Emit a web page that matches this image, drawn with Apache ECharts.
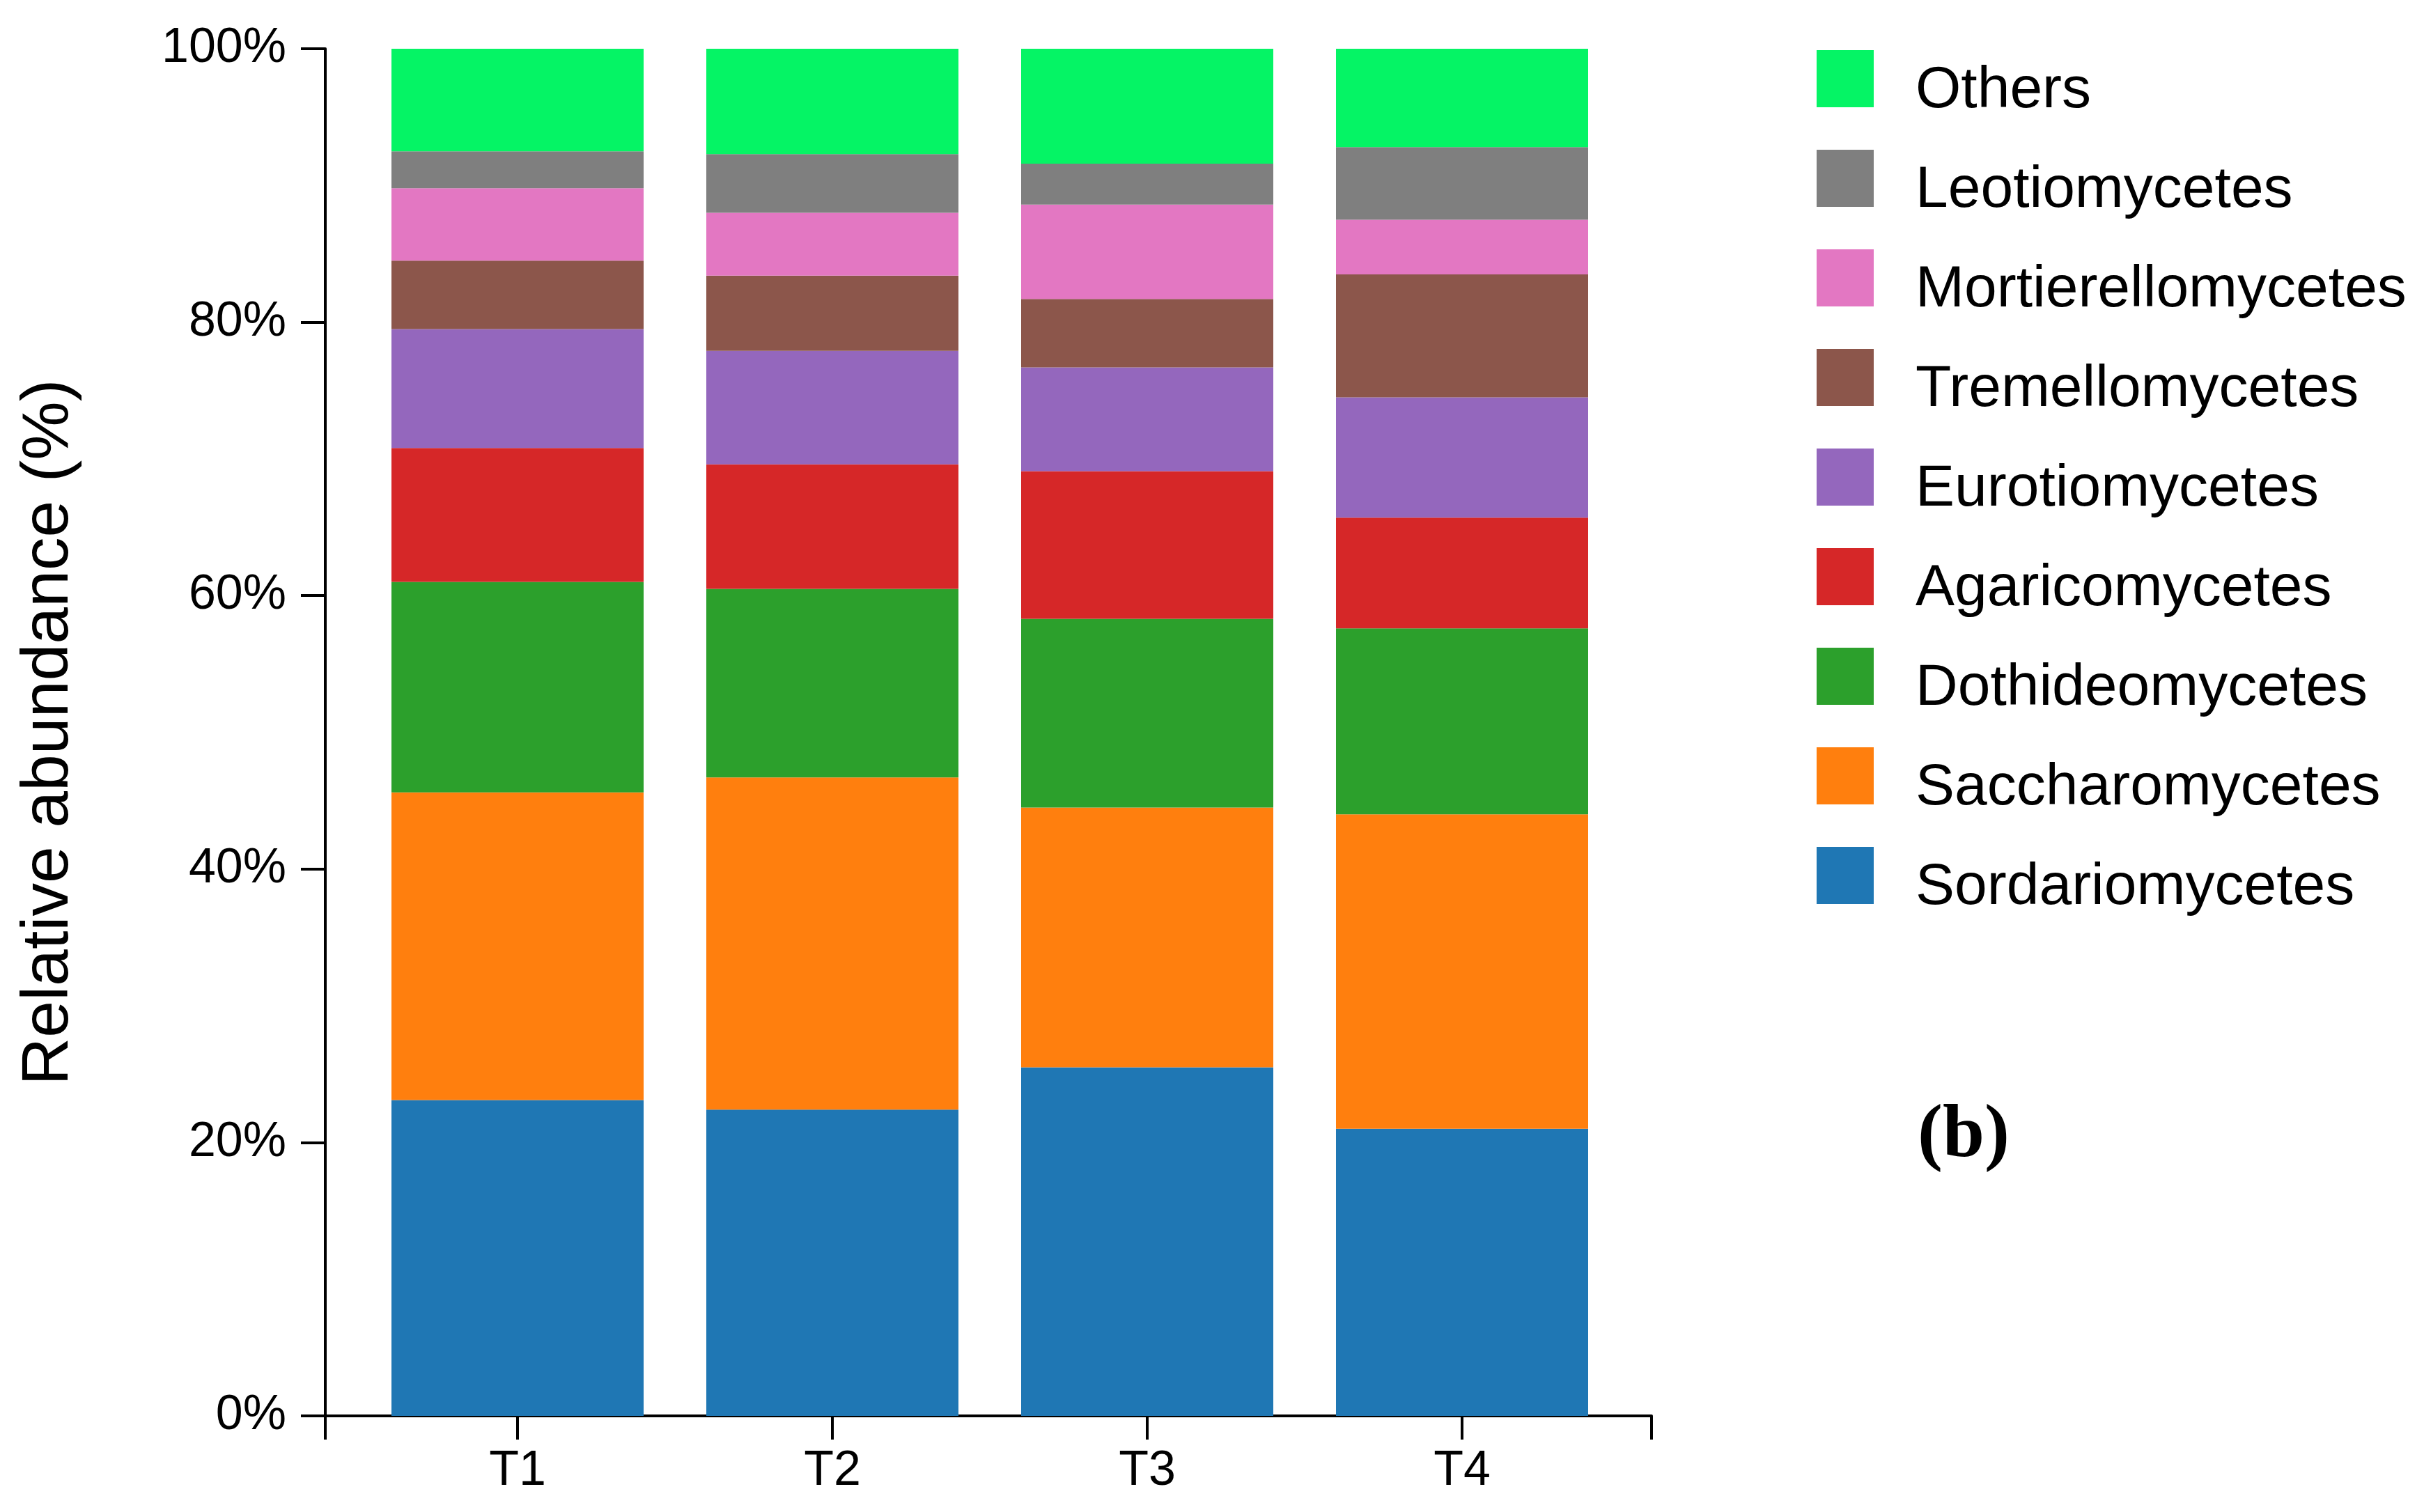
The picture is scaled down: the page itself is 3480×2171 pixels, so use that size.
<!DOCTYPE html>
<html>
<head>
<meta charset="utf-8">
<title>Relative abundance (b)</title>
<script src="https://cdn.jsdelivr.net/npm/echarts@6/dist/echarts.min.js"></script>
<style>
  html, body { margin: 0; padding: 0; background: #fff; }
  #chart { width: 3480px; height: 2171px; }
</style>
</head>
<body>
<div id="chart"></div>
<script>
// 样本
var categories = ['T1', 'T2', 'T3', 'T4'];
// 类群（堆叠从下到上）
var taxa = ['Sordariomycetes', 'Saccharomycetes', 'Dothideomycetes', 'Agaricomycetes',
  'Eurotiomycetes', 'Tremellomycetes', 'Mortierellomycetes', 'Leotiomycetes', 'Others'];
var taxaColors = ['#1f77b4', '#ff7f0e', '#2ca02c', '#d62728',
  '#9467bd', '#8c564b', '#e377c2', '#7f7f7f', '#05f465'];

// 各类群相对丰度 (%)，依次为 T1..T4
var sordariomycetes = [23.1, 22.4, 25.5, 21.0];
var saccharomycetes = [22.5, 24.3, 19.0, 23.0];
var dothideomycetes = [15.4, 13.8, 13.8, 13.6];
var agaricomycetes = [9.8, 9.1, 10.8, 8.1];
var eurotiomycetes = [8.7, 8.3, 7.6, 8.8];
var tremellomycetes = [5.0, 5.5, 5.0, 9.0];
var mortierellomycetes = [5.3, 4.6, 6.9, 4.0];
var leotiomycetes = [2.7, 4.3, 3.0, 5.3];
var others = [7.5, 7.7, 8.4, 7.2];

var yTicks = [0, 20, 40, 60, 80, 100];

var seriesValues = [sordariomycetes, saccharomycetes, dothideomycetes, agaricomycetes,
  eurotiomycetes, tremellomycetes, mortierellomycetes, leotiomycetes, others];

var FONT = 'Liberation Sans';
var black = '#000';

var chart = echarts.init(document.getElementById('chart'));

var series = taxa.map(function (name, k) {
  return {
    name: name,
    type: 'bar',
    stack: 'total',
    xAxisIndex: 0,
    yAxisIndex: 0,
    barWidth: 362,
    itemStyle: { color: taxaColors[k] },
    data: seriesValues[k]
  };
});

var option = {
  backgroundColor: '#fff',
  animation: false,
  title: {
    text: '(b)',
    left: 2753,
    top: 1578,
    padding: 0,
    textStyle: { fontFamily: 'Liberation Serif', fontWeight: 'bold', fontSize: 108, color: black }
  },
  legend: {
    data: taxa.slice().reverse(),
    orient: 'vertical',
    left: 2608,
    top: 72,
    padding: 0,
    icon: 'rect',
    itemWidth: 82,
    itemHeight: 82,
    itemGap: 42,
    selectedMode: false,
    // 文字比色块略低一点
    formatter: function (name) { return '{s| }{t|' + name + '}'; },
    textStyle: {
      color: black,
      rich: {
        s: { width: 55, fontSize: 2, lineHeight: 120 },
        t: { fontFamily: FONT, fontSize: 84, lineHeight: 84, color: black, verticalAlign: 'bottom' }
      }
    }
  },
  // 0：柱子所在区域；1：外框坐标轴（比柱区左右各宽一点）
  grid: [
    { left: 517, top: 70, width: 1808, height: 1963 },
    { left: 467, top: 70, width: 1904, height: 1963 }
  ],
  xAxis: [{
    gridIndex: 0,
    type: 'category',
    data: categories,
    axisLine: { show: false },
    axisTick: { show: true, alignWithLabel: true, length: 34, lineStyle: { color: black, width: 4 } },
    axisLabel: { margin: 45, fontFamily: FONT, fontSize: 70, color: black },
    splitLine: { show: false }
  }, {
    gridIndex: 1,
    type: 'value',
    min: 0,
    max: 1,
    axisLine: { show: true, onZero: false, lineStyle: { color: black, width: 4 } },
    axisTick: { show: true, length: 34, customValues: [0, 1], lineStyle: { color: black, width: 4 } },
    axisLabel: { show: false },
    splitLine: { show: false }
  }],
  yAxis: [{
    gridIndex: 0,
    type: 'value',
    min: yTicks[0],
    max: yTicks[yTicks.length - 1],
    show: false
  }, {
    gridIndex: 1,
    type: 'value',
    min: yTicks[0],
    max: yTicks[yTicks.length - 1],
    interval: yTicks[1] - yTicks[0],
    name: 'Relative abundance (%)',
    nameLocation: 'middle',
    nameGap: 349,
    nameTextStyle: { fontFamily: FONT, fontSize: 95, color: black },
    axisLine: { show: true, onZero: false, lineStyle: { color: black, width: 4 } },
    axisTick: { show: true, length: 35, lineStyle: { color: black, width: 4 } },
    axisLabel: { margin: 56, fontFamily: FONT, fontSize: 70, color: black, formatter: '{value}%' },
    splitLine: { show: false }
  }],
  series: series
};

chart.setOption(option, true);
</script>
</body>
</html>
